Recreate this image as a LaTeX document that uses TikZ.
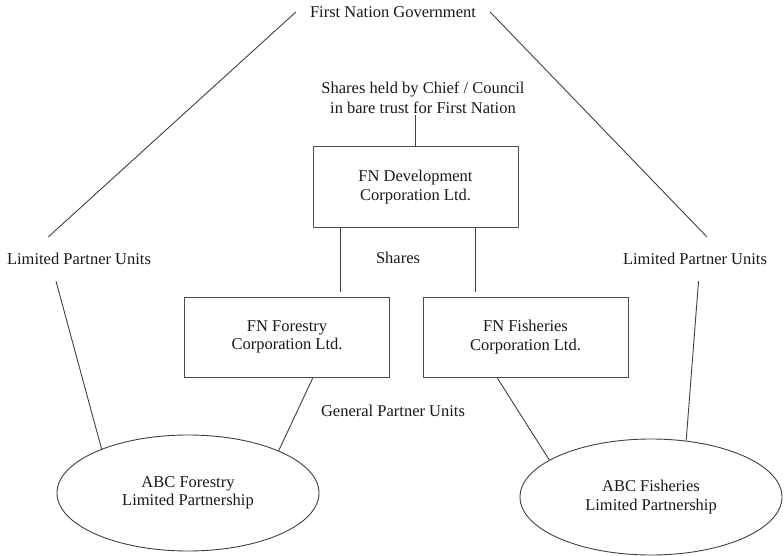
\documentclass[tikz,border=0pt]{standalone}
\usepackage{fontspec}
\setmainfont{Liberation Serif}
\usetikzlibrary{shapes.geometric}
\begin{document}
\begin{tikzpicture}[x=1pt,y=-1pt,
  every node/.style={font=\fontsize{16.5}{18.5}\selectfont, align=center, text=black!90},
  conn/.style={draw=black!75, line width=0.9pt},
  corpbox/.style={draw=black!70, line width=1pt, rectangle, minimum width=205pt, minimum height=80pt, inner sep=0pt},
  lpbox/.style={draw=black!75, line width=0.9pt, ellipse, minimum width=262pt, minimum height=116pt, inner sep=0pt},
  lpu/.style={inner sep=0pt, minimum height=44pt, minimum width=143pt}]
\useasboundingbox (0,0) rectangle (784,556);
\node[inner xsep=14pt, inner ysep=2pt] (fng) at (393,12) {First Nation Government};
\node[inner sep=1pt, font=\fontsize{16.5}{20.5}\selectfont] (shares) at (423,98) {Shares held by Chief / Council\\in bare trust for First Nation};
\node[corpbox] (dev) at (415.5,187) {FN Development\\Corporation Ltd.};
\node (sharelbl) at (398,258) {Shares};
\node[corpbox] (fo) at (287,337) {FN Forestry\\Corporation Ltd.};
\node[corpbox] (fi) at (525.5,337) {FN Fisheries\\Corporation Ltd.};
\node (gpu) at (393,411) {General Partner Units};
\node[lpu] (lpuL) at (79,259) {Limited Partner Units};
\node[lpu] (lpuR) at (695,259) {Limited Partner Units};
\node[lpbox] (fel) at (188,493) {ABC Forestry\\Limited Partnership};
\node[lpbox] (fil) at (651,497) {ABC Fisheries\\Limited Partnership};

\draw[conn] (fng.west) -- (lpuL.144);
\draw[conn] (fng.east) -- (lpuR.62);
\draw[conn] (lpuL.224) -- (fel.153);
\draw[conn] (lpuR.-81) -- (fil.58);
\draw[conn] (dev.north) -- (dev.north |- shares.south);
\draw[conn, shorten >=5pt] ([xshift=28pt]dev.south west) -- ([xshift=28pt]dev.south west |- fo.north);
\draw[conn, shorten >=5pt] ([xshift=-43pt]dev.south east) -- ([xshift=-43pt]dev.south east |- fi.north);
\draw[conn] ([xshift=26pt]fo.south) -- (fel.25);
\draw[conn] ([xshift=-28.5pt]fi.south) -- (fil.160);
\end{tikzpicture}
\end{document}
